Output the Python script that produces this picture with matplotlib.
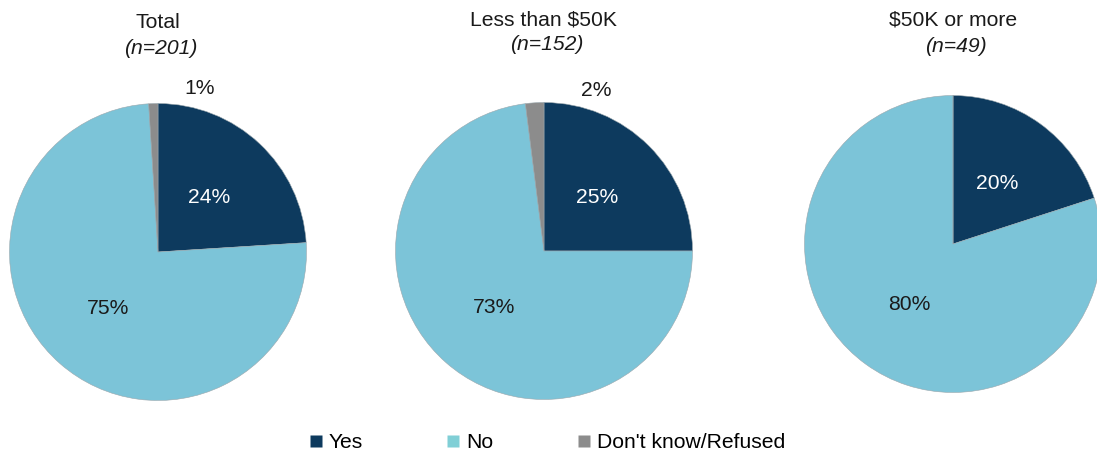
import numpy as np
import matplotlib
matplotlib.use("Agg")
import matplotlib.pyplot as plt
from matplotlib.lines import Line2D

plt.rcParams['font.family'] = ['Liberation Sans', 'DejaVu Sans']

categories = ["Yes", "No", "Don't know/Refused"]
titles = ["Total", "Less than $50K", "$50K or more"]
sample_sizes = ["(n=201)", "(n=152)", "(n=49)"]
total = [24, 75, 1]
under_50k = [25, 73, 2]
over_50k = [20, 80, 0]
groups = [total, under_50k, over_50k]

colors = ["#0D3A5E", "#7CC4D8", "#8C8C8C"]
legend_colors = ["#0D3A5E", "#80CFD6", "#8C8C8C"]
text_colors = ["white", "#1a1a1a", "#1a1a1a"]

W, H = 1097, 455
fig = plt.figure(figsize=(W / 100, H / 100), dpi=100)

# pie centres in pixels (x, y from top) and radius
centres = [(158, 252), (544, 251), (953, 244)]
R = 150
title_y = [(23, 48), (20, 45), (20, 47)]
# where the tiny slice label sits (outside the pie)
small_pos = [(0.28, 1.09), (0.35, 1.07), None]
fs = 15.2

for i, vals in enumerate(groups):
    cx, cy = centres[i]
    ax = fig.add_axes([(cx - R) / W, (H - cy - R) / H, 2 * R / W, 2 * R / H])
    wedges, _ = ax.pie(vals, colors=colors, startangle=90, counterclock=False,
                       radius=0.99, wedgeprops=dict(edgecolor='#9aa7ad', linewidth=0.4))
    ax.set_xlim(-1, 1)
    ax.set_ylim(-1, 1)
    ax.axis('off')
    for j, w in enumerate(wedges):
        if vals[j] == 0:
            continue
        if j == 2:
            x, y = small_pos[i]
        else:
            ang = np.deg2rad((w.theta1 + w.theta2) / 2)
            x, y = 0.5 * np.cos(ang), 0.5 * np.sin(ang)
        ax.text(x, y, f"{vals[j]}%", ha='center', va='center', fontsize=fs,
                color=text_colors[j], clip_on=False)
    t1, t2 = title_y[i]
    ax.text(0, (cy - t1) / R, titles[i], ha='center', va='center', fontsize=fs,
            color='#1a1a1a', clip_on=False)
    ax.text(0.02, (cy - t2) / R, sample_sizes[i], ha='center', va='center', fontsize=fs,
            style='italic', color='#1a1a1a', clip_on=False)

handles = [Line2D([], [], marker='s', linestyle='none', markersize=8,
                  markerfacecolor=c, markeredgecolor='none') for c in legend_colors]
fig.legend(handles, categories, loc='center', bbox_to_anchor=(547 / W, (H - 443) / H),
           ncol=3, frameon=False, fontsize=fs, handlelength=0.6, handletextpad=0.3,
           columnspacing=4.0, borderpad=0)

fig.savefig("out.png", dpi=100)
